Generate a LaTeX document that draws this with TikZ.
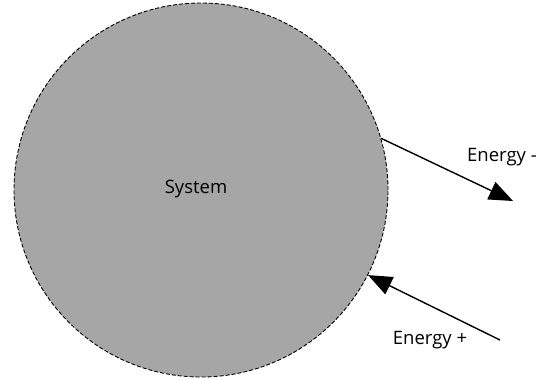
\documentclass[tikz,border=0pt]{standalone}
\usepackage{fontspec}
\setmainfont{Open Sans}
\usetikzlibrary{arrows.meta}
\definecolor{sysgray}{HTML}{A6A6A6}
\begin{document}
\begin{tikzpicture}[x=1pt,y=-1pt,
  every node/.style={font=\fontsize{18.5}{22}\selectfont},
  system/.style={circle,fill=sysgray,draw=black,line width=0.9pt,
    dash pattern=on 4pt off 2pt,minimum size=374pt,inner sep=0pt},
  flow/.style={line width=1.4pt,-{Triangle[length=24pt,width=19pt]}}]
  \useasboundingbox (0,0) rectangle (538,380);
  \node[system] (sys) at (201,190) {};
  \node (lbl) at (196,189) {System};
  \coordinate (outEnd) at (513,201);
  \coordinate (inStart) at (500,340);
  \draw[flow] (sys.16.5) -- (outEnd);
  \draw[flow] (inStart) -- (sys.-27.5);
  \node[anchor=west,inner sep=0pt] (minus) at (467,157) {Energy -};
  \node (plus) at (430,340) {Energy +};
\end{tikzpicture}
\end{document}
